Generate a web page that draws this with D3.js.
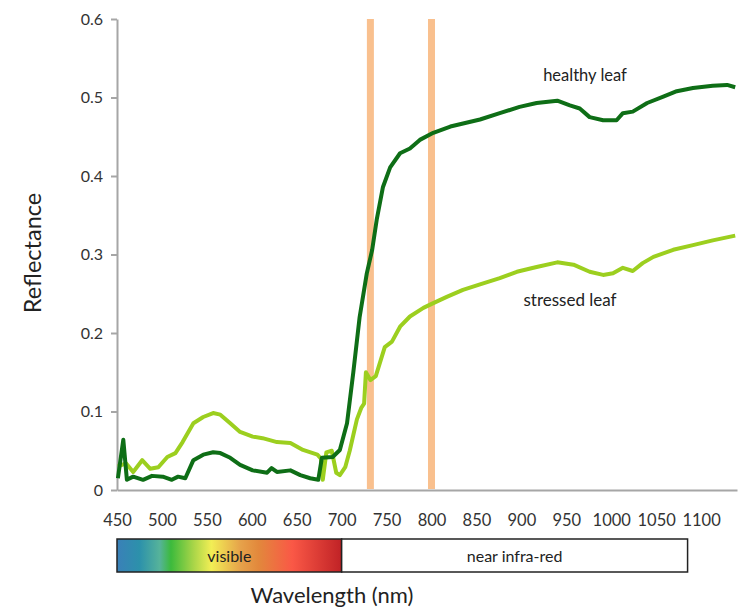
<!DOCTYPE html>
<html>
<head>
<meta charset="utf-8">
<script src="https://cdn.jsdelivr.net/npm/d3@7"></script>
<style>
  body { margin: 0; background: #fff; }
  text { font-family: Lato, "Open Sans", sans-serif; }
</style>
</head>
<body>
<svg id="chart" width="741" height="612"></svg>
<script>
// ---------------------------------------------
// Data
// ---------------------------------------------

// wavelength (nm) / reflectance pairs for the healthy leaf
let healthyNm = [451, 457, 461, 468, 479, 489, 501, 511, 518, 526, 535, 546, 557, 565, 576, 587,
  601, 617, 622, 628, 643, 654, 665, 674, 678, 690, 698, 706, 713, 720, 728, 734, 739, 746, 754,
  765, 776, 787, 802, 821, 854, 876, 898, 917, 940, 954, 965, 976, 991, 1006, 1013, 1024, 1040,
  1058, 1073, 1091, 1113, 1129, 1138];
let healthyVal = [0.015, 0.064, 0.013, 0.017, 0.013, 0.018, 0.017, 0.013, 0.017, 0.015, 0.038,
  0.045, 0.048, 0.047, 0.041, 0.032, 0.025, 0.022, 0.028, 0.023, 0.025, 0.019, 0.015, 0.013,
  0.041, 0.042, 0.051, 0.085, 0.15, 0.22, 0.276, 0.306, 0.344, 0.386, 0.411, 0.429, 0.435,
  0.446, 0.455, 0.463, 0.472, 0.480, 0.488, 0.493, 0.496, 0.490, 0.486, 0.475, 0.471, 0.471,
  0.480, 0.482, 0.493, 0.501, 0.508, 0.512, 0.515, 0.516, 0.513];

// wavelength (nm) / reflectance pairs for the stressed leaf
let stressedNm = [451, 460, 468, 478, 487, 496, 506, 515, 523, 535, 546, 557, 565, 576, 587, 601,
  612, 628, 643, 657, 673, 677, 679, 683, 689, 694, 698, 704, 709, 713, 717, 722, 725, 727, 732,
  738, 748, 756, 765, 776, 791, 802, 817, 835, 854, 876, 895, 917, 940, 958, 976, 991, 1002,
  1013, 1024, 1035, 1047, 1069, 1091, 1113, 1138];
let stressedVal = [0.030, 0.034, 0.023, 0.038, 0.027, 0.029, 0.042, 0.047, 0.061, 0.085, 0.093,
  0.098, 0.096, 0.085, 0.074, 0.068, 0.066, 0.061, 0.060, 0.051, 0.045, 0.040, 0.013, 0.048,
  0.050, 0.022, 0.019, 0.029, 0.05, 0.07, 0.09, 0.105, 0.11, 0.15, 0.14, 0.145, 0.182, 0.189,
  0.208, 0.221, 0.232, 0.238, 0.246, 0.255, 0.262, 0.270, 0.278, 0.284, 0.290, 0.287, 0.278,
  0.274, 0.276, 0.283, 0.279, 0.289, 0.297, 0.306, 0.312, 0.318, 0.324];

// marked wavelengths (orange bars)
let markerNm = [732, 800];

// tick labels
let xTicks = [450, 500, 550, 600, 650, 700, 750, 800, 850, 900, 950, 1000, 1050, 1100];
let yTicks = [0, 0.1, 0.2, 0.3, 0.4, 0.5, 0.6];

// spectrum bands below the axis
let bandNames = ['visible', 'near infra-red'];
let bandStart = [450, 700];
let bandEnd = [700, 1085];

// colours of the visible spectrum, left to right
let spectrumOffsets = [0, 0.1, 0.19, 0.24, 0.34, 0.42, 0.55, 0.63, 0.78, 1];
let spectrumColors = ['#3a80b8', '#2c91ab', '#56b39a', '#3cba3c', '#a8d548', '#f2ee55',
  '#e6a24a', '#e2883c', '#fa5846', '#c02226'];

// ---------------------------------------------
// Drawing
// ---------------------------------------------

let svg = d3.select('#chart');

let scaleX = d3.scaleLinear().domain([450, 1140]).range([117, 737]);
let scaleY = d3.scaleLinear().domain([0, 0.6]).range([490, 19]);

let axisColor = '#a6a6a6';
let labelColor = '#333';

// y axis
let yAxis = svg.append('g')
    .attr('transform', 'translate(117,0)')
    .call(d3.axisLeft(scaleY).tickValues(yTicks).tickSize(6).tickSizeOuter(0)
      .tickFormat((d) => d === 0 ? '0' : d3.format('.1f')(d)));
yAxis.selectAll('path, line').attr('stroke', axisColor).attr('stroke-width', 2);
yAxis.selectAll('text')
    .attr('fill', labelColor)
    .attr('font-size', 16)
    .attr('x', -14);

// x axis
let xAxis = svg.append('g')
    .attr('transform', 'translate(0,490)')
    .call(d3.axisBottom(scaleX).tickValues(xTicks).tickSize(0).tickSizeOuter(0)
      .tickFormat(d3.format('d')));
xAxis.select('.domain').attr('stroke', axisColor).attr('stroke-width', 2);
xAxis.selectAll('text')
    .attr('fill', labelColor)
    .attr('font-size', 16.5)
    .attr('y', 24);

// orange marker bars
svg.selectAll('rect.marker').data(markerNm)
    .join('rect')
    .attr('class', 'marker')
    .attr('x', (d) => scaleX(d) - 3.5)
    .attr('y', scaleY(0.6))
    .attr('width', 7)
    .attr('height', scaleY(0) - scaleY(0.6) - 1)
    .attr('fill', '#f9c08e');

// reflectance curves
let line = d3.line()
    .x((d) => scaleX(d[0]))
    .y((d) => scaleY(d[1]));

let healthy = d3.zip(healthyNm, healthyVal);
let stressed = d3.zip(stressedNm, stressedVal);

svg.append('path')
    .datum(stressed)
    .attr('d', line)
    .attr('fill', 'none')
    .attr('stroke', '#9ccf1f')
    .attr('stroke-width', 4)
    .attr('stroke-linejoin', 'round');

svg.append('path')
    .datum(healthy)
    .attr('d', line)
    .attr('fill', 'none')
    .attr('stroke', '#0e6e16')
    .attr('stroke-width', 4)
    .attr('stroke-linejoin', 'round');

// curve labels
svg.append('text')
    .attr('x', 585).attr('y', 81)
    .attr('text-anchor', 'middle')
    .attr('font-size', 16.5)
    .attr('fill', '#222')
    .text('healthy leaf');

svg.append('text')
    .attr('x', 570).attr('y', 306)
    .attr('text-anchor', 'middle')
    .attr('font-size', 17)
    .attr('fill', '#222')
    .text('stressed leaf');

// axis titles
svg.append('text')
    .attr('transform', 'translate(41,253) rotate(-90)')
    .attr('text-anchor', 'middle')
    .attr('font-size', 23.5)
    .attr('fill', '#222')
    .text('Reflectance');

svg.append('text')
    .attr('x', 332).attr('y', 603)
    .attr('text-anchor', 'middle')
    .attr('font-size', 22)
    .attr('fill', '#222')
    .text('Wavelength (nm)');

// spectrum band
let grad = svg.append('defs').append('linearGradient')
    .attr('id', 'spectrum')
    .attr('x1', '0%').attr('x2', '100%');
grad.selectAll('stop').data(spectrumOffsets)
    .join('stop')
    .attr('offset', (d) => d)
    .attr('stop-color', (d, i) => spectrumColors[i]);

let bandTop = 539;
let bandHeight = 33;

svg.selectAll('rect.band').data(bandNames)
    .join('rect')
    .attr('class', 'band')
    .attr('x', (d, i) => scaleX(bandStart[i]))
    .attr('y', bandTop)
    .attr('width', (d, i) => scaleX(bandEnd[i]) - scaleX(bandStart[i]))
    .attr('height', bandHeight)
    .attr('fill', (d, i) => i === 0 ? 'url(#spectrum)' : '#fff')
    .attr('stroke', '#222')
    .attr('stroke-width', 1.5);

svg.selectAll('text.band').data(bandNames)
    .join('text')
    .attr('class', 'band')
    .attr('x', (d, i) => (scaleX(bandStart[i]) + scaleX(bandEnd[i])) / 2)
    .attr('y', bandTop + bandHeight / 2 + 6)
    .attr('text-anchor', 'middle')
    .attr('font-size', 16)
    .attr('fill', '#222')
    .text((d) => d);
</script>
</body>
</html>
